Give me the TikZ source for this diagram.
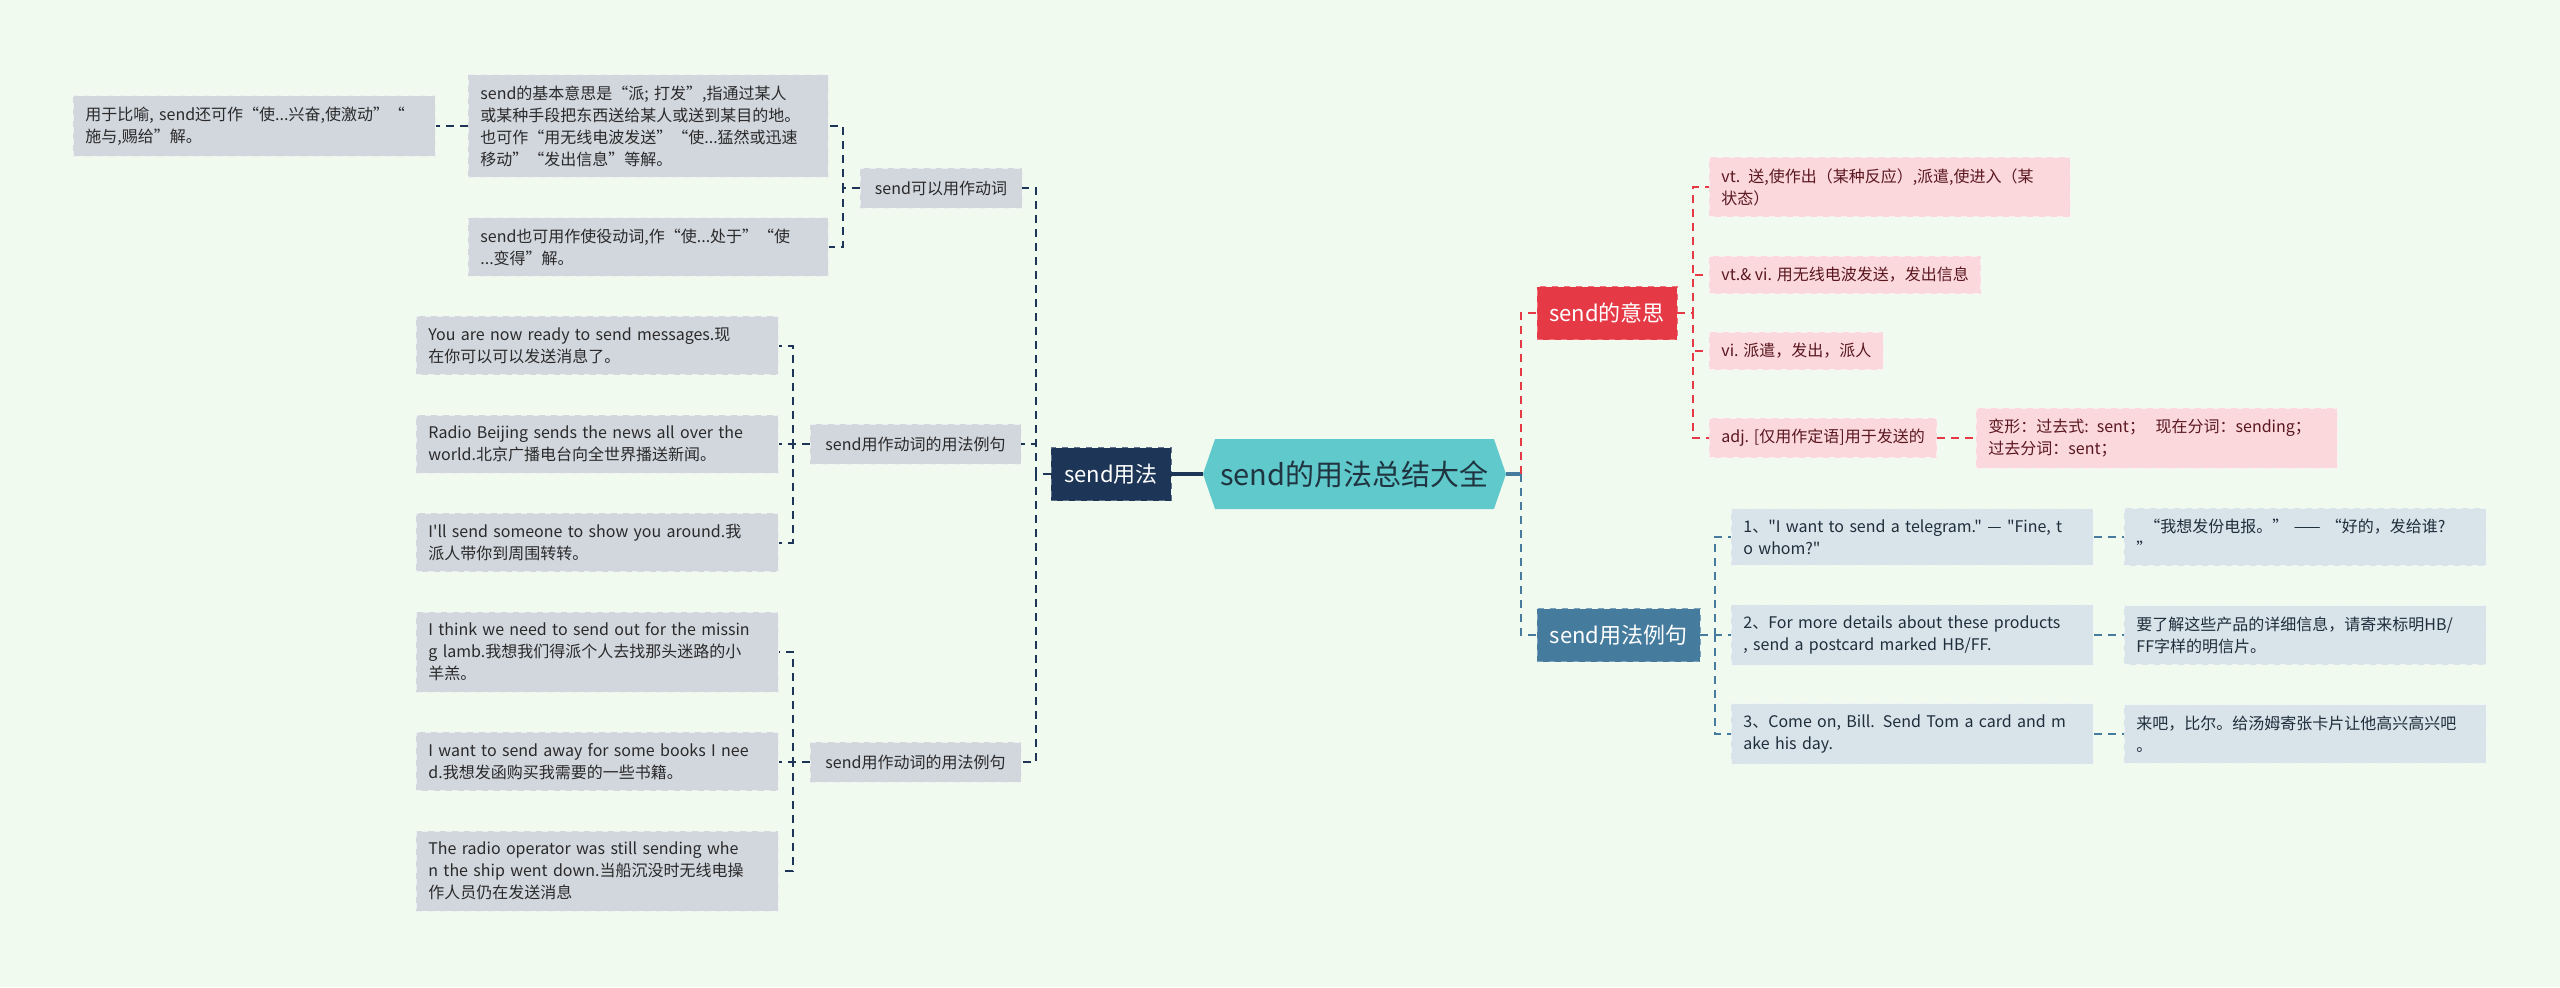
\documentclass[tikz,border=0pt]{standalone}
\usepackage{fontspec}
\setmainfont{Noto Sans CJK SC}[Ligatures=TeXOff]
\usepackage{tikz}
\usetikzlibrary{shapes.symbols}
\definecolor{bgc}{HTML}{F1FAEE}
\definecolor{rootc}{HTML}{60C9CB}
\definecolor{roott}{HTML}{1F3440}
\definecolor{navyc}{HTML}{1D3557}
\definecolor{redc}{HTML}{E63946}
\definecolor{bluec}{HTML}{457B9D}
\definecolor{leafg}{HTML}{D2D6DD}
\definecolor{leafr}{HTML}{FAD8DB}
\definecolor{leafb}{HTML}{D9E3EA}
\definecolor{textg}{HTML}{2A2A2A}
\definecolor{textr}{HTML}{5B1720}
\definecolor{textb}{HTML}{1E2E3B}

\begin{document}
\begin{tikzpicture}[x=0.5pt, y=-0.5pt,
 hub/.style={shape=signal, signal to=west and east, signal pointer angle=142, fill=rootc, text=roott,
             font=\fontsize{14.5}{17}\selectfont, minimum width=151.5pt, minimum height=35pt, inner sep=0pt},
 topic/.style={draw=#1!70!white, dashed, fill=#1, text=white, font=\fontsize{11}{13}\selectfont,
             minimum height=26.5pt, inner sep=0pt},
 sub/.style={draw=leafg!40!white, dashed, fill=leafg, text=textg, font=\fontsize{8}{11}\selectfont,
             minimum height=20pt, inner sep=0pt},
 leaf/.style={draw=#1!40!white, dashed, fill=#1, font=\fontsize{8}{11}\selectfont, align=left,
             inner xsep=6pt, inner ysep=5.5pt, anchor=west},
 gleaf/.style={leaf=leafg, text=textg, text width=169pt},
 rleaf/.style={leaf=leafr, text=textr},
 bleaf/.style={leaf=leafb, text=textb, text width=169pt},
 ln/.style={draw=#1, dash pattern=on 4pt off 3pt, line width=1pt},
 trunk/.style={draw=#1, line width=1.6pt},
]
 \fill[bgc] (0,0) rectangle (2560,987);
 \useasboundingbox (0,0) rectangle (2560,987);

 % centre and main topics
 \node[hub] (root) at (1354.5,474) {send的用法总结大全};
 \node[topic=navyc, minimum width=60pt] (usage) at (1111,474) {send用法};
 \node[topic=redc, minimum width=70pt] (mean) at (1607,313) {send的意思};
 \node[topic=bluec, minimum width=81.5pt] (ex) at (1618.5,635) {send用法例句};

 % left branch
 \node[sub, minimum width=81pt] (verb) at (941,188) {send可以用作动词};
 \node[sub, minimum width=105.5pt] (exA) at (915.5,444) {send用作动词的用法例句};
 \node[sub, minimum width=105.5pt] (exB) at (915.5,762) {send用作动词的用法例句};
 \node[gleaf, text width=168pt] (basic) at (468,126) {send的基本意思是“派; 打发”,指通过某人\\或某种手段把东西送给某人或送到某目的地。\\也可作“用无线电波发送”“使...猛然或迅速\\移动”“发出信息”等解。};
 \node[gleaf] (fig) at (73,126) {用于比喻, send还可作“使...兴奋,使激动”“\\施与,赐给”解。};
 \node[gleaf, text width=168pt] (caus) at (468,247) {send也可用作使役动词,作“使...处于”“使\\...变得”解。};
 \node[gleaf] (a1) at (416,345.5) {You are now ready to send messages.现\\在你可以可以发送消息了。};
 \node[gleaf] (a2) at (416,444) {Radio Beijing sends the news all over the\\world.北京广播电台向全世界播送新闻。};
 \node[gleaf] (a3) at (416,542.5) {I'll send someone to show you around.我\\派人带你到周围转转。};
 \node[gleaf] (b1) at (416,652) {I think we need to send out for the missin\\g lamb.我想我们得派个人去找那头迷路的小\\羊羔。};
 \node[gleaf] (b2) at (416,761.5) {I want to send away for some books I nee\\d.我想发函购买我需要的一些书籍。};
 \node[gleaf] (b3) at (416,871) {The radio operator was still sending whe\\n the ship went down.当船沉没时无线电操\\作人员仍在发送消息};

 % right branch: meanings
 \node[rleaf, text width=168.5pt] (m1) at (1709,187) {vt. 送,使作出（某种反应）,派遣,使进入（某\\状态）};
 \node[rleaf] (m2) at (1709,275) {vt.\& vi. 用无线电波发送，发出信息};
 \node[rleaf] (m3) at (1709,351) {vi. 派遣，发出，派人};
 \node[rleaf] (m4) at (1709,438) {adj. [仅用作定语]用于发送的};
 \node[rleaf, text width=168.5pt] (form) at (1976,438) {变形：过去式: sent；\ \ 现在分词：sending；\\过去分词：sent；};

 % right branch: examples
 \node[bleaf] (e1) at (1731,537) {1、"I want to send a telegram." — "Fine, t\\o whom?"};
 \node[bleaf] (e2) at (1731,635) {2、For more details about these products\\, send a postcard marked HB/FF.};
 \node[bleaf] (e3) at (1731,734) {3、Come on, Bill. Send Tom a card and m\\ake his day.};
 \node[bleaf] (c1) at (2124,537) {\hspace*{4pt}“我想发份电报。” —— “好的，发给谁?\\”};
 \node[bleaf] (c2) at (2124,635) {要了解这些产品的详细信息，请寄来标明HB/\\FF字样的明信片。};
 \node[bleaf] (c3) at (2124,734) {来吧，比尔。给汤姆寄张卡片让他高兴高兴吧\\。};

 % links, left
 \draw[trunk=navyc] (root.west) -- (usage.east);
 \draw[ln=navyc] (usage.west) -- ++(-15,0) |- (verb.east);
 \draw[ln=navyc] (usage.west) -- ++(-15,0) |- (exA.east);
 \draw[ln=navyc] (usage.west) -- ++(-15,0) |- (exB.east);
 \draw[ln=navyc] (verb.west) -- ++(-17,0) |- (basic.east);
 \draw[ln=navyc] (verb.west) -- ++(-17,0) |- (caus.east);
 \draw[ln=navyc] (basic.west) -- (fig.east);
 \draw[ln=navyc] (exA.west) -- ++(-17,0) |- (a1.east);
 \draw[ln=navyc] (exA.west) -- ++(-17,0) |- (a2.east);
 \draw[ln=navyc] (exA.west) -- ++(-17,0) |- (a3.east);
 \draw[ln=navyc] (exB.west) -- ++(-17,0) |- (b1.east);
 \draw[ln=navyc] (exB.west) -- ++(-17,0) |- (b2.east);
 \draw[ln=navyc] (exB.west) -- ++(-17,0) |- (b3.east);

 % links, right
 \draw[trunk=bluec] (root.east) -- ++(15,0) coordinate (fork);
 \draw[ln=redc] (fork) |- (mean.west);
 \draw[ln=bluec] (fork) |- (ex.west);
 \draw[ln=redc] (mean.east) -- ++(16,0) |- (m1.west);
 \draw[ln=redc] (mean.east) -- ++(16,0) |- (m2.west);
 \draw[ln=redc] (mean.east) -- ++(16,0) |- (m3.west);
 \draw[ln=redc] (mean.east) -- ++(16,0) |- (m4.west);
 \draw[ln=redc] (m4.east) -- (form.west);
 \draw[ln=bluec] (ex.east) -- ++(15,0) |- (e1.west);
 \draw[ln=bluec] (ex.east) -- ++(15,0) |- (e2.west);
 \draw[ln=bluec] (ex.east) -- ++(15,0) |- (e3.west);
 \draw[ln=bluec] (e1.east) -- (c1.west);
 \draw[ln=bluec] (e2.east) -- (c2.west);
 \draw[ln=bluec] (e3.east) -- (c3.west);
\end{tikzpicture}
\end{document}
